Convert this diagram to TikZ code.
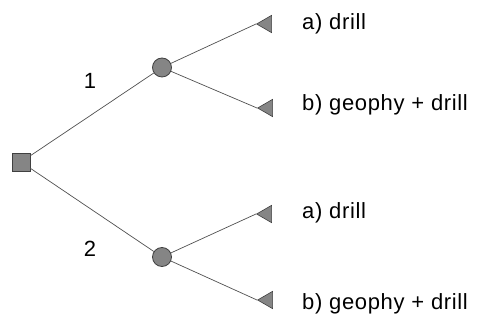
\documentclass[tikz,border=0pt]{standalone}
\usepackage{fontspec}
\setmainfont{Liberation Sans}
\usetikzlibrary{shapes.geometric}
\definecolor{fillg}{HTML}{858585}
\definecolor{edgeg}{HTML}{404040}
\definecolor{lineg}{HTML}{505050}
\begin{document}
\begin{tikzpicture}[x=1pt,y=-1pt,
  decision/.style={draw=edgeg,fill=fillg,line width=0.8pt,minimum size=18pt,inner sep=0pt,rectangle},
  chance/.style={draw=edgeg,fill=fillg,line width=0.8pt,circle,minimum size=19pt,inner sep=0pt},
  leaf/.style={draw=edgeg,fill=fillg,line width=0.6pt,regular polygon,regular polygon sides=3,shape border rotate=90,minimum size=20pt,inner sep=0pt,anchor=corner 1},
  branch/.style={draw=lineg,line width=0.7pt},
  lbl/.style={font=\fontsize{22}{25}\selectfont\addfontfeature{LetterSpace=3},anchor=base west,inner sep=0pt},
  num/.style={font=\fontsize{22}{25}\selectfont,anchor=base,inner sep=0pt}]
\useasboundingbox (0,0) rectangle (477,323);
\node[decision] (sq) at (21,162) {};
\node[chance] (c1) at (162,67.5) {};
\node[chance] (c2) at (162,257) {};
\node[leaf] (t1) at (256,24) {};
\node[leaf] (t2) at (257,108) {};
\node[leaf] (t3) at (256,214) {};
\node[leaf] (t4) at (257,300) {};
\draw[branch] (sq) -- (c1);
\draw[branch] (sq) -- (c2);
\draw[branch] (c1) -- (t1.corner 1);
\draw[branch] (c1) -- (t2.corner 1);
\draw[branch] (c2) -- (t3.corner 1);
\draw[branch] (c2) -- (t4.corner 1);
\node[lbl] (l1) at (302,30) {a) drill};
\node[lbl] (l2) at (302,111) {b) geophy + drill};
\node[lbl] (l3) at (302,219) {a) drill};
\node[lbl] (l4) at (302,309) {b) geophy + drill};
\node[num] (n1) at (90,89) {1};
\node[num] (n2) at (90,257) {2};
\end{tikzpicture}
\end{document}
